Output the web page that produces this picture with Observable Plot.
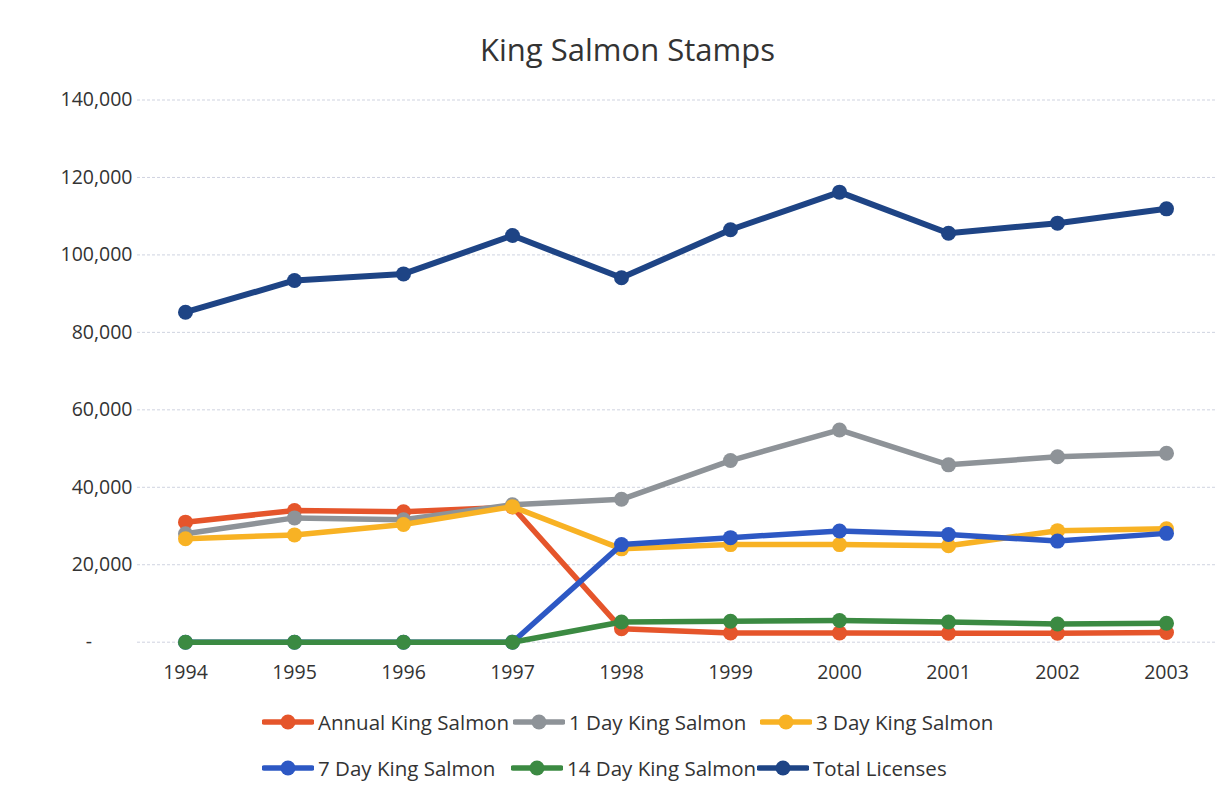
<!DOCTYPE html>
<html>
<head>
<meta charset="utf-8">
<script src="https://cdn.jsdelivr.net/npm/d3@7"></script>
<script src="https://cdn.jsdelivr.net/npm/@observablehq/plot@0.6"></script>
<style>
  html, body { margin: 0; padding: 0; background: #fff; }
  #wrap { position: relative; width: 1231px; height: 799px; font-family: "Open Sans", Lato, sans-serif; color: #333; overflow: hidden; }
  #title { height: 80px; text-align: center; font-size: 31px; line-height: 32px; box-sizing: border-box; position: relative; }
  #title span { position: absolute; left: 24px; right: 0; top: 33px; }
  #legend { position: relative; height: 99px; font-size: 20.5px; }
  .item { position: absolute; display: flex; align-items: center; white-space: nowrap; }
  .item svg { margin-right: 4px; }
</style>
</head>
<body>
<div id="wrap">
  <div id="title"><span>King Salmon Stamps</span></div>
  <div id="chart"></div>
  <div id="legend"></div>
</div>
<script>
const years = ["1994","1995","1996","1997","1998","1999","2000","2001","2002","2003"];
const seriesNames = ["Annual King Salmon","1 Day King Salmon","3 Day King Salmon","7 Day King Salmon","14 Day King Salmon","Total Licenses"];
const annual      = [31000, 34000, 33700, 34900, 3500, 2400, 2400, 2300, 2300, 2500];
const oneDay      = [28000, 32100, 31600, 35500, 36900, 46900, 54800, 45800, 47900, 48800];
const threeDay    = [26700, 27700, 30400, 35000, 24100, 25200, 25200, 24900, 28800, 29300];
const sevenDay    = [0, 0, 0, 0, 25200, 27000, 28700, 27800, 26100, 28100];
const fourteenDay = [0, 0, 0, 0, 5200, 5400, 5600, 5200, 4700, 4900];
const total       = [85200, 93400, 95100, 105000, 94100, 106500, 116200, 105600, 108200, 111900];
const yTicks = [0, 20000, 40000, 60000, 80000, 100000, 120000, 140000];
const colors = ["#e5552b", "#8e9398", "#f8b224", "#2d58c4", "#3b8a42", "#1e4485"];

const values = [annual, oneDay, threeDay, sevenDay, fourteenDay, total];
const rows = [];
seriesNames.forEach((s, i) => years.forEach((y, j) => rows.push({series: s, year: y, value: values[i][j]})));

const marks = [
  Plot.gridY(yTicks, {stroke: "#cfd3e0", strokeOpacity: 1, strokeWidth: 1, strokeDasharray: "3,2"})
];
seriesNames.forEach((s, i) => {
  const d = rows.filter(r => r.series === s);
  marks.push(Plot.line(d, {x: "year", y: "value", stroke: colors[i], strokeWidth: i === 5 ? 6 : 5.5, strokeLinejoin: "round", strokeLinecap: "round"}));
  marks.push(Plot.dot(d, {x: "year", y: "value", fill: colors[i], r: 7.5, stroke: "none"}));
});
const nb = "\u00a0".repeat(8);
marks.push(Plot.axisY(yTicks, {tickSize: 0, tickPadding: 5, fontSize: 19.5, tickFormat: d => d === 0 ? "-" + nb : d3.format(",")(d), fill: "#333"}));
marks.push(Plot.axisX({tickSize: 0, tickPadding: 23, fontSize: 19.5, fill: "#333"}));

const chart = Plot.plot({
  width: 1231,
  height: 620,
  marginTop: 19.5,
  marginBottom: 58.3,
  marginLeft: 137,
  marginRight: 16,
  style: {fontFamily: "'Open Sans', Lato, sans-serif", color: "#333", background: "#fff", overflow: "visible"},
  x: {type: "point", domain: years, range: [184, 1167], padding: 0, label: null},
  y: {domain: [0, 140000], label: null},
  marks
});
document.getElementById("chart").appendChild(chart);

// Legend
const legendPos = [[262, 22], [513, 22], [760, 22], [262, 68], [511, 68], [757, 68]];
const legend = document.getElementById("legend");
seriesNames.forEach((s, i) => {
  const div = document.createElement("div");
  div.className = "item";
  div.style.left = legendPos[i][0] + "px";
  div.style.top = (legendPos[i][1] - 14) + "px";
  const sw = d3.create("svg").attr("width", 52).attr("height", 24);
  sw.append("line").attr("x1", 2).attr("x2", 50).attr("y1", 12).attr("y2", 12)
    .attr("stroke", colors[i]).attr("stroke-width", 5.5).attr("stroke-linecap", "round");
  sw.append("circle").attr("cx", 26).attr("cy", 12).attr("r", 7.5).attr("fill", colors[i]);
  div.appendChild(sw.node());
  const t = document.createElement("span");
  t.textContent = s;
  div.appendChild(t);
  legend.appendChild(div);
});
</script>
</body>
</html>
